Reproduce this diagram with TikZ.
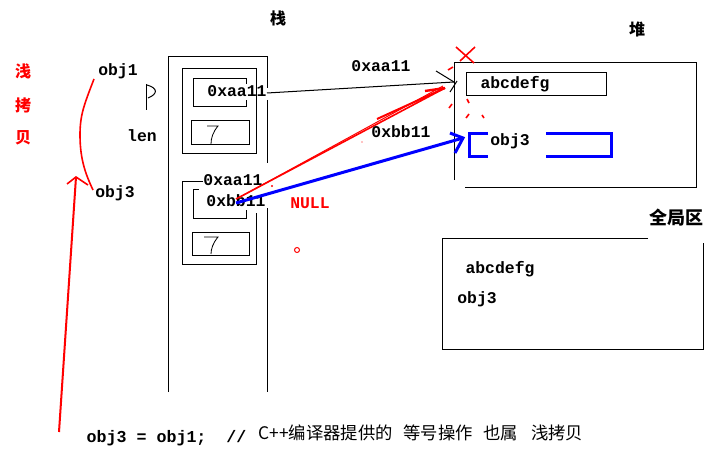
\documentclass[tikz,border=0pt]{standalone}
\usepackage{fontspec}
\setmonofont{Liberation Mono}
\newfontfamily\cjk{Noto Sans CJK SC}
\begin{document}
\begin{tikzpicture}[x=0.75pt,y=-0.75pt,line width=0.75pt,
  code/.style={font=\ttfamily\bfseries\fontsize{12.3}{14}\selectfont, inner sep=0pt},
  codered/.style={code, text=red},
  han/.style={font=\cjk\bfseries\fontsize{12}{14}\selectfont, inner sep=0pt},
  redl/.style={red, line width=1.2pt},
  bluel/.style={blue, line width=2.25pt},
  thin7/.style={line width=0.6pt}]
\useasboundingbox (0,0) rectangle (725,453);
\fill[white] (0,0) rectangle (725,453);

% headings
\node[han] (zhan) at (278,18) {栈};
\node[han] (dui) at (637,29) {堆};
\node[han, font=\cjk\bfseries\fontsize{13.5}{15}\selectfont] (quanju) at (676,218) {全局区};
\node[han, text=red] (q1) at (23,71) {浅};
\node[han, text=red] (q2) at (23,105) {拷};
\node[han, text=red] (q3) at (23,138) {贝};

% left labels
\node[code] (obj1) at (118,71) {obj1};
\node[code] (obj3) at (115,193) {obj3};
\node[code] (len) at (142,136) {len};
\draw (146,84) -- (146,110);
\draw (147,85) .. controls (158,88) and (158,94) .. (148,98);

% red curve and arrow
\draw[redl] (94,79) .. controls (84,105) and (80,115) .. (80,135) .. controls (80,160) and (86,175) .. (93,190);
\coordinate (ra1) at (59,432);
\coordinate (ra2) at (76,177);
\coordinate (rb1) at (67,184);
\coordinate (rb2) at (88,185);
\draw[redl, line width=1.5pt] (ra1) -- (ra2);
\draw[redl] (rb1) -- (ra2) -- (rb2);

% stack
\draw (168,392) -- (168,57) -- (267,57) -- (267,88);
\draw (267,100) -- (267,163);
\draw (267,208) -- (267,392);
\draw (182,69) rectangle (256,153);
\draw (246,84) -- (246,79) -- (193,79) -- (193,107) -- (246,107) -- (246,100);
\node[code] (aa1) at (237,91) {0xaa11};
\draw (191,121) rectangle (249,144);
\draw[thin7] (207,126) -- (218,126) .. controls (213,132) and (211,138) .. (211,144);

\draw (203,181) -- (182,181) -- (182,264) -- (256,264) -- (256,213);
\node[code] (aa2) at (233,180) {0xaa11};
\draw (199,189) -- (193,189) -- (193,218) -- (246,218) -- (246,210);
\node[code] (bb) at (236,201) {0xbb11};
\draw (192,232) rectangle (249,255);
\draw[thin7] (204,237) -- (218,237) .. controls (213,243) and (211,249) .. (211,254);

\node[codered] (null) at (310,203) {NULL};
\draw[red] (297,250) circle (2.5);
\fill[red] (272,186) circle (1.2);
\fill[red] (362,142) circle (0.6);

% heap
\draw (454,180) -- (454,63) -- (696,63) -- (696,187) -- (465,187);
\draw (466,73) rectangle (606,96);
\node[code] (habc) at (515,84) {abcdefg};
\draw[bluel] (488,133) -- (469,133) -- (469,156) -- (488,156);
\draw[bluel] (546,133) -- (611,133) -- (611,156) -- (546,156);
\node[code] (hobj3) at (510,141) {obj3};

% red cross and dashes
\draw[redl] (456,47) -- (474,63);
\draw[redl] (475,47) -- (460,61);
\draw[redl] (448,70) -- (453,67);
\draw[redl] (449,108) -- (452,104);
\draw[redl] (467,99) -- (469,103);
\draw[redl] (466,118) -- (469,114);
\draw[redl] (482,115) -- (484,118);

% arrows
\coordinate (aaS) at (267,93);
\coordinate (aaE) at (454,82);
\coordinate (aaB1) at (436,71);
\coordinate (aaB2) at (450,92);
\draw (aaS) -- (aaE);
\draw (aaB1) -- (aaE);
\draw (aaB2) -- (457,81);
\node[code] (lblaa) at (381,66) {0xaa11};

\coordinate (rS) at (236,199);
\coordinate (rE) at (445,88);
\coordinate (rB) at (425,91);
\draw[redl] (rS) -- (rE);
\draw[red, line width=0.75pt] (240,197) -- (443,86);
\draw[red, line width=1.5pt] (377,119) -- (rE);
\draw[red, line width=1.8pt] (rB) -- (rE);

\coordinate (bS) at (236,203);
\coordinate (bE) at (463,138);
\coordinate (bB1) at (450,133);
\coordinate (bB2) at (455,153);
\draw[bluel] (bS) -- (bE);
\draw[bluel] (bB1) -- (bE) -- (bB2);
\node[code] (lblbb) at (401,132) {0xbb11};

% global area
\draw (648,238) -- (442,238) -- (442,349) -- (703,349) -- (703,243);
\node[code] (gabc) at (500,269) {abcdefg};
\node[code] (gobj3) at (477,299) {obj3};

% bottom statement
\node[code, font=\ttfamily\bfseries\fontsize{12.5}{14}\selectfont, anchor=west] (stmt) at (86,438) {obj3 = obj1;\ \ //};
\node[anchor=west, inner sep=0pt, font=\cjk\fontsize{13}{15}\selectfont] (cmt) at (258,433) {C++编译器提供的\hspace{0.62em}等号操作\hspace{0.62em}也属\hspace{0.75em}浅拷贝};
\end{tikzpicture}
\end{document}
